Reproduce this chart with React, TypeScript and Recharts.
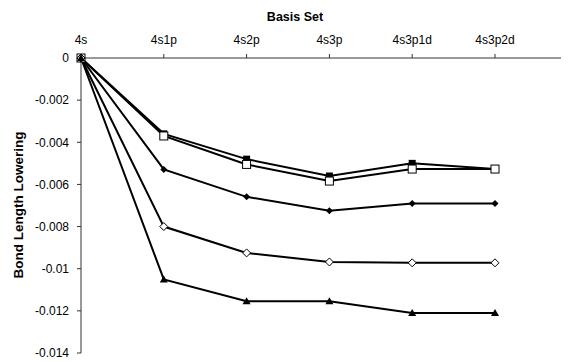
import { Line, LineChart, XAxis, YAxis } from "recharts";

const basisSets = ["4s", "4s1p", "4s2p", "4s3p", "4s3p1d", "4s3p2d"];

const filledSquare = [0, -0.0036, -0.0048, -0.0056, -0.005, -0.00527];
const openSquare = [0, -0.0037, -0.00505, -0.00584, -0.00527, -0.00527];
const filledDiamond = [0, -0.00529, -0.00659, -0.00725, -0.0069, -0.0069];
const openDiamond = [0, -0.008, -0.00925, -0.00968, -0.00972, -0.00972];
const filledTriangle = [0, -0.01051, -0.01154, -0.01154, -0.0121, -0.0121];

const yTicks = [0, -0.002, -0.004, -0.006, -0.008, -0.01, -0.012, -0.014];

type Marker = "square" | "openSquare" | "diamond" | "openDiamond" | "triangle";

const SERIES: { key: string; values: number[]; marker: Marker }[] = [
  { key: "s1", values: filledSquare, marker: "square" },
  { key: "s2", values: openSquare, marker: "openSquare" },
  { key: "s3", values: filledDiamond, marker: "diamond" },
  { key: "s4", values: openDiamond, marker: "openDiamond" },
  { key: "s5", values: filledTriangle, marker: "triangle" },
];

const chartData = basisSets.map((name, i) => {
  const row: { [k: string]: number | string } = { name };
  for (const s of SERIES) row[s.key] = s.values[i];
  return row;
});

function makeDot(marker: Marker) {
  return (props: any) => {
    const { cx, cy, index } = props;
    const k = `${marker}-${index}`;
    if (cx == null || cy == null) return <g key={k} />;
    switch (marker) {
      case "square":
        return <rect key={k} x={cx - 3.5} y={cy - 3.5} width={7} height={7} fill="#000" />;
      case "openSquare":
        return (
          <rect key={k} x={cx - 4} y={cy - 4} width={8} height={8} fill="#fff" stroke="#000" strokeWidth={1} />
        );
      case "diamond":
        return (
          <polygon key={k} points={`${cx},${cy - 3.5} ${cx + 3.5},${cy} ${cx},${cy + 3.5} ${cx - 3.5},${cy}`} fill="#000" />
        );
      case "openDiamond":
        return (
          <polygon
            key={k}
            points={`${cx},${cy - 4} ${cx + 4},${cy} ${cx},${cy + 4} ${cx - 4},${cy}`}
            fill="#fff"
            stroke="#000"
            strokeWidth={1}
          />
        );
      default:
        return (
          <polygon key={k} points={`${cx},${cy - 4} ${cx + 4},${cy + 3} ${cx - 4},${cy + 3}`} fill="#000" />
        );
    }
  };
}

const FONT = "'Liberation Sans', Arial, sans-serif";

export default function App() {
  return (
    <div style={{ position: "relative", width: 569, height: 362, margin: "-8px 0 0 -8px", fontFamily: FONT, background: "#fff" }}>
      <div
        style={{
          position: "absolute",
          left: 245,
          top: 10,
          width: 100,
          textAlign: "center",
          fontWeight: "bold",
          fontSize: 12.5,
          color: "#000",
        }}
      >
        Basis Set
      </div>
      <div
        style={{
          position: "absolute",
          left: 18,
          top: 205,
          transform: "translate(-50%, -50%) rotate(-90deg)",
          whiteSpace: "nowrap",
          fontWeight: "bold",
          fontSize: 13.5,
          color: "#000",
        }}
      >
        Bond Length Lowering
      </div>
      <LineChart width={569} height={362} data={chartData} margin={{ top: 28, right: 0, bottom: 9, left: 0 }}>
        <XAxis
          dataKey="name"
          orientation="top"
          height={30}
          interval={0}
          padding={{ left: 0, right: 74 }}
          tickSize={4}
          tickMargin={10}
          stroke="#333"
          tick={{ fontSize: 12, fill: "#000", fontFamily: FONT }}
        />
        <YAxis
          type="number"
          domain={[-0.014, 0]}
          ticks={yTicks}
          width={81}
          interval={0}
          tickSize={4}
          tickMargin={8}
          stroke="#333"
          tick={{ fontSize: 12, fill: "#000", fontFamily: FONT }}
          tickFormatter={(v: number) => String(v)}
        />
        {SERIES.map((s) => (
          <Line
            key={s.key}
            type="linear"
            dataKey={s.key}
            stroke="#000"
            strokeWidth={2}
            dot={makeDot(s.marker)}
            activeDot={false}
            isAnimationActive={false}
          />
        ))}
      </LineChart>
    </div>
  );
}
